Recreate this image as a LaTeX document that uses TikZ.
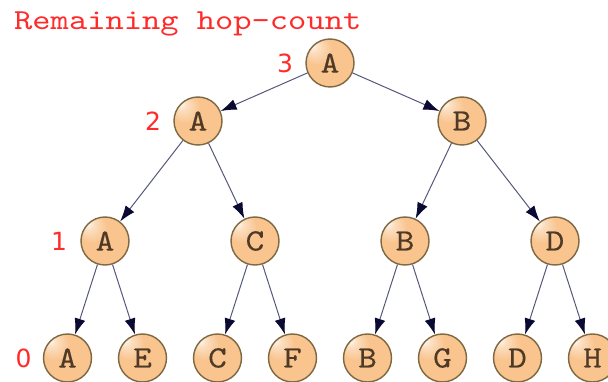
\documentclass[tikz,border=0pt]{standalone}
\usepackage{fontspec}
\newfontfamily\hopfont{DejaVu Sans}
\newfontfamily\widett{lmmono10-regular}[Extension=.otf, FakeStretch=1.2]
\newfontfamily\nodett{lmmono10-regular}[Extension=.otf, FakeStretch=1.15, FakeBold=0.3]
\usetikzlibrary{trees,positioning,arrows.meta}

\definecolor{peach}{HTML}{F9C48E}
\definecolor{rimbrown}{HTML}{7D6842}
\definecolor{letterbrown}{HTML}{4E3A26}
\definecolor{edgeblue}{HTML}{55587A}
\definecolor{headnavy}{HTML}{0A0A33}
\definecolor{hopred}{HTML}{FF2A2A}

% peach disc with a small highlight up left
\pgfdeclareradialshading{peachball}{\pgfpoint{-20bp}{20bp}}{color(0bp)=(white); color(6bp)=(peach!55!white); color(16bp)=(peach); color(50bp)=(peach)}

\begin{document}
\begin{tikzpicture}[level distance=58pt]
	\tikzstyle{router}=[circle, draw=rimbrown, line width=1.4pt, shading=peachball, minimum size=48pt, inner sep=0pt, font=\nodett\fontsize{31}{31}\selectfont, text=letterbrown]
	\tikzstyle{every child node}=[router]
	\tikzstyle{edge from parent}=[draw=edgeblue, line width=1pt, -{Latex[length=16pt,width=11pt,color=headnavy]}]
	\tikzstyle{level 1}=[sibling distance=264pt]
	\tikzstyle{level 2}=[level distance=120pt, sibling distance=150pt]
	\tikzstyle{level 3}=[level distance=117pt, sibling distance=75pt]
	\tikzstyle{hop}=[text=hopred, font=\hopfont\fontsize{25}{25}\selectfont, inner sep=0pt]

	\useasboundingbox (0,0) rectangle (608pt,-382pt);

	\node[anchor=base west, inner sep=0pt, text=hopred, font=\widett\fontsize{29}{29}\selectfont] (title) at (14pt,-30pt) {Remaining hop-count};

	\node[router] (root) at (330pt,-63pt) {A}
	child {node (a2) {A}
		child {node[xshift=-18pt] (a1) {A}
			child {node (a0) {A}}
			child {node (e0) {E}}
		}
		child {node[xshift=-18pt] (c1) {C}
			child {node (c0) {C}}
			child {node (f0) {F}}
		}
	}
	child {node (b2) {B}
		child {node[xshift=18pt] (b1) {B}
			child {node (b0) {B}}
			child {node (g0) {G}}
		}
		child {node[xshift=18pt] (d1) {D}
			child {node (d0) {D}}
			child {node (h0) {H}}
		}
	};

	% hop count left of each level
	\node[hop, left=12pt of root] (hop3) {3};
	\node[hop, left=12pt of a2] (hop2) {2};
	\node[hop, left=13pt of a1] (hop1) {1};
	\node[hop, left=11pt of a0] (hop0) {0};
\end{tikzpicture}
\end{document}
